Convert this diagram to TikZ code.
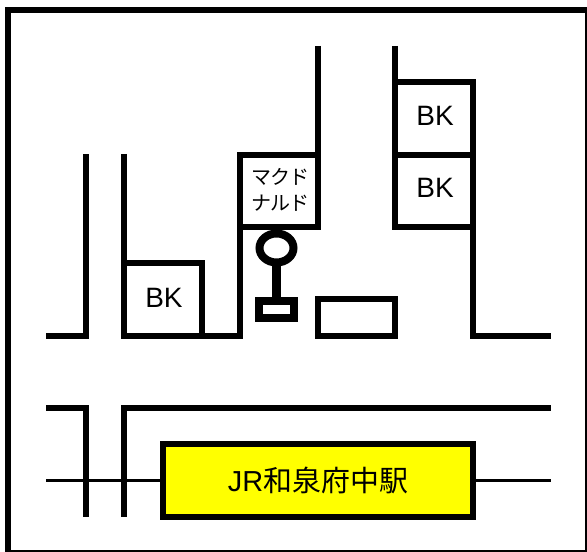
\documentclass[tikz,border=0pt]{standalone}
\usepackage{fontspec}
\setmainfont{Liberation Sans}
\newfontfamily\cjk{Noto Sans CJK JP}
\newfontfamily\cjktight[LetterSpace=-6]{Noto Sans CJK JP}
\definecolor{stationyellow}{RGB}{255,255,0}
\tikzset{
  wall/.style={draw=black,line width=4.5pt,line cap=butt,line join=miter},
  rail/.style={draw=black,line width=2.25pt},
  sign/.style={draw=black,line width=6pt,line join=miter},
  lab/.style={font=\fontsize{21}{24}\selectfont,inner sep=0pt},
  mc/.style={font=\cjktight\fontsize{15}{19}\selectfont,inner sep=0pt,align=center},
}
\begin{document}
\begin{tikzpicture}[x=0.75pt,y=-0.75pt]
\useasboundingbox (0,0) rectangle (587,552);
\fill[white] (0,0) rectangle (587,552);
\begin{scope}
\clip (0,0) rectangle (587,552);
\draw[wall] (8,10) rectangle (588,553.5);
\end{scope}
\coordinate (a1) at (46,336); \coordinate (a2) at (86,336); \coordinate (a3) at (86,154);
\draw[wall] (a1) -- (a2) -- (a3);
\coordinate (b1) at (124,154); \coordinate (b2) at (124,336); \coordinate (b3) at (240,336); \coordinate (b4) at (240,155); \coordinate (b5) at (318,155); \coordinate (b6) at (318,227); \coordinate (b7) at (240,227);
\draw[wall] (b1) -- (b2) -- (b3) -- (b4) -- (b5);
\draw[wall] (b7) -- (b6);
\coordinate (b8) at (318,46);
\draw[wall] (b8) -- (318,230);
\coordinate (c1) at (124,263); \coordinate (c2) at (202,263); \coordinate (c3) at (202,336);
\draw[wall] (c1) -- (c2) -- (c3);
\coordinate (d1) at (395,46); \coordinate (d2) at (395,227); \coordinate (d3) at (473,227);
\draw[wall] (d1) -- (d2) -- (d3);
\coordinate (e1) at (395,82); \coordinate (e2) at (473,82); \coordinate (e3) at (473,336); \coordinate (e4) at (551,336);
\draw[wall] (e1) -- (e2) -- (e3) -- (e4);
\coordinate (e5) at (395,155); \coordinate (e6) at (473,155);
\draw[wall] (e5) -- (e6);
\draw[wall] (318,299) rectangle (395,336);
\coordinate (f1) at (46,408); \coordinate (f2) at (86,408); \coordinate (f3) at (86,517);
\draw[wall] (f1) -- (f2) -- (f3);
\coordinate (g1) at (124,517); \coordinate (g2) at (124,408); \coordinate (g3) at (551,408);
\draw[wall] (g1) -- (g2) -- (g3);
\coordinate (r1) at (46,480.5); \coordinate (r2) at (551,480.5);
\draw[rail] (r1) -- (r2);
\node[draw=black,fill=stationyellow,line width=4.5pt,minimum width=232.5pt,minimum height=54.75pt,inner sep=0pt,outer sep=0pt,font=\fontsize{21.7}{24}\selectfont] (st) at (318,480.5) {JR{\cjk 和泉府中駅}};
\draw[sign] (276.5,248) circle[x radius=17,y radius=14.5];
\draw[sign,line width=6.75pt] (276.5,266) -- (276.5,298);
\draw[sign] (259,301) rectangle (294,318);
\node[lab] (bk1) at (435,116) {BK};
\node[lab] (bk2) at (435,188) {BK};
\node[lab] (bk3) at (164,298) {BK};
\node[mc] (md) at (280.5,190) {マクド\\ナルド};
\end{tikzpicture}
\end{document}
